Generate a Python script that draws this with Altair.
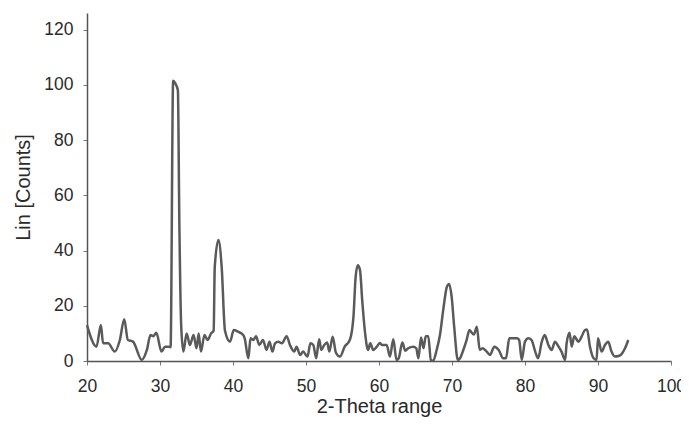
import altair as alt
import pandas as pd

two_theta = [20.0, 21.3, 21.9, 22.2, 22.9, 23.8, 24.5, 25.1, 25.6, 26.3, 27.5, 28.2, 28.7, 29.1, 29.5,
             30.2, 30.7, 31.1, 31.45, 31.8, 32.1, 32.45, 32.65, 32.9, 33.2, 33.65, 34.1, 34.6, 35.0,
             35.3, 35.6, 36.1, 36.5, 37.0, 37.35, 37.5, 38.0, 38.45, 38.9, 39.6, 40.1, 40.7, 41.4,
             41.6, 42.1, 42.4, 42.8, 43.15, 43.6, 44.1, 44.6, 45.0, 45.4, 45.75, 46.2, 46.7, 47.35,
             47.8, 48.4, 48.7, 49.2, 49.6, 50.2, 50.6, 51.0, 51.4, 51.8, 52.1, 52.5, 52.9, 53.2,
             53.65, 54.1, 54.66, 55.3, 56.0, 56.5, 56.8, 57.1, 57.4, 57.7, 58.1, 58.5, 58.8, 59.2,
             59.7, 60.1, 60.4, 61.05, 61.5, 61.96, 62.4, 62.7, 63.2, 63.6, 64.0, 64.7, 65.1, 65.4,
             65.75, 66.1, 66.4, 66.75, 67.1, 67.4, 67.9, 68.35, 68.8, 69.3, 69.6, 69.95, 70.3, 70.8,
             71.1, 71.55, 72.0, 72.4, 72.6, 73.0, 73.4, 73.8, 74.2, 74.75, 75.2, 75.8, 76.4, 77.0,
             77.4, 77.85, 78.9, 79.2, 79.55, 80.0, 80.45, 80.9, 81.4, 81.8, 82.3, 82.7, 83.2, 83.65,
             84.1, 84.6, 85.0, 85.5, 85.7, 86.1, 86.4, 86.75, 87.3, 87.75, 88.2, 88.5, 88.9, 89.4,
             89.8, 90.0, 90.5, 90.95, 91.4, 91.85, 92.3, 92.8, 93.2, 93.7, 94.15]
counts = [13.0, 5.2, 13.0, 6.4, 6.4, 3.4, 7.6, 15.1, 7.6, 7.0, 0.4, 4.0, 9.4, 9.0, 10.2,
          3.4, 5.2, 5.2, 5.0, 101.5, 100.5, 98.0, 50.0, 13.0, 3.4, 10.0, 5.8, 9.4, 4.6,
          10.0, 3.4, 9.4, 7.6, 10.0, 11.0, 34.0, 43.8, 34.0, 11.0, 7.0, 11.2, 10.6, 9.4,
          8.2, 1.0, 8.2, 7.6, 9.0, 5.8, 7.6, 4.0, 7.0, 3.4, 6.4, 7.0, 6.4, 9.0,
          5.8, 3.4, 5.2, 2.2, 3.4, 1.6, 6.4, 5.8, 1.0, 7.9, 4.0, 5.8, 6.7, 3.4,
          8.8, 3.0, 1.6, 5.2, 7.6, 16.0, 30.5, 34.7, 32.9, 22.0, 10.0, 4.0, 6.4, 4.0,
          5.2, 6.5, 5.8, 5.8, 1.6, 7.9, 0.4, 1.0, 6.7, 3.7, 4.6, 5.2, 4.6, 1.0,
          8.5, 4.6, 9.0, 9.0, 0.4, 0.0, 4.0, 9.4, 18.5, 26.9, 27.9, 23.3, 12.4, 0.4,
          1.0, 4.0, 7.6, 11.2, 10.6, 9.6, 12.4, 4.0, 4.6, 3.4, 2.2, 5.2, 4.0, 1.0,
          1.0, 8.2, 8.2, 7.6, 0.4, 7.0, 8.2, 7.6, 3.4, 1.0, 7.0, 9.4, 5.8, 4.0,
          7.0, 5.2, 3.4, 0.4, 6.4, 10.2, 5.2, 9.0, 7.0, 8.8, 11.2, 11.4, 5.2, 1.0,
          0.4, 8.2, 3.4, 5.8, 7.0, 3.4, 1.6, 1.8, 2.4, 4.6, 7.6]

df = pd.DataFrame({"theta": two_theta, "counts": counts})

axis_common = dict(
    labelFont="Liberation Sans", titleFont="Liberation Sans",
    labelFontSize=17.5, titleFontSize=20, labelColor="#2a2a2a", titleColor="#2a2a2a",
    titleFontWeight="normal", domainColor="#555", tickColor="#777",
    domainWidth=1.5, tickWidth=1, tickSize=4, grid=False, labelFlush=False,
)

chart = alt.Chart(df).mark_line(color="#5a5a5a", strokeWidth=2.5, interpolate="monotone").encode(
    x=alt.X("theta:Q", title="2-Theta range",
            scale=alt.Scale(domain=[20, 100], nice=False, zero=False),
            axis=alt.Axis(values=list(range(20, 101, 10)), labelPadding=12,
                          titlePadding=2, **axis_common)),
    y=alt.Y("counts:Q", title="Lin [Counts]",
            scale=alt.Scale(domain=[0, 126], nice=False),
            axis=alt.Axis(values=list(range(0, 121, 20)), labelPadding=10,
                          titlePadding=10, **axis_common)),
).properties(
    width=584, height=348,
    autosize=alt.AutoSizeParams(type="none"),
    padding={"left": 79, "top": 5, "right": 10, "bottom": 58},
).configure_view(stroke=None)

chart.save("out.html", embed_options={"renderer": "svg", "actions": False})
